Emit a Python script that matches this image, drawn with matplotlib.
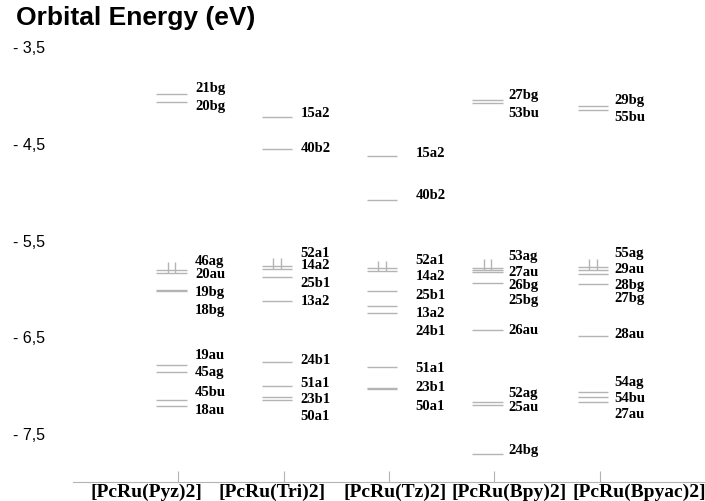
import matplotlib
matplotlib.use("Agg")
import matplotlib.pyplot as plt

# molecular orbital levels (eV) for each complex
compounds = ["[PcRu(Pyz)2]", "[PcRu(Tri)2]", "[PcRu(Tz)2]", "[PcRu(Bpy)2]", "[PcRu(Bpyac)2]"]

pyz_names = ["21bg", "20bg", "46ag", "20au", "19bg", "18bg", "19au", "45ag", "45bu", "18au"]
pyz_energy = [-4.00, -4.08, -5.815, -5.846, -6.022, -6.03, -6.794, -6.873, -7.159, -7.218]

tri_names = ["15a2", "40b2", "52a1", "14a2", "25b1", "13a2", "24b1", "51a1", "23b1", "50a1"]
tri_energy = [-4.237, -4.565, -5.771, -5.805, -5.885, -6.139, -6.763, -7.017, -7.125, -7.156]

tz_names = ["15a2", "40b2", "52a1", "14a2", "25b1", "13a2", "24b1", "51a1", "23b1", "50a1"]
tz_energy = [-4.640, -5.092, -5.795, -5.829, -6.029, -6.190, -6.260, -6.821, -7.038, -7.045]

bpy_names = ["27bg", "53bu", "53ag", "27au", "26bg", "25bg", "26au", "52ag", "25au", "24bg"]
bpy_energy = [-4.055, -4.089, -5.795, -5.815, -5.839, -5.953, -6.432, -7.183, -7.211, -7.717]

bpyac_names = ["29bg", "55bu", "55ag", "29au", "28bg", "27bg", "28au", "54ag", "54bu", "27au"]
bpyac_energy = [-4.120, -4.161, -5.784, -5.815, -5.856, -5.959, -6.497, -7.076, -7.128, -7.180]

yticks = [-3.5, -4.5, -5.5, -6.5, -7.5]

# where each name sits (eV), spread out so names don't collide
pyz_label_y = [-3.924, -4.110, -5.712, -5.846, -6.032, -6.218, -6.683, -6.866, -7.073, -7.259]
tri_label_y = [-4.192, -4.544, -5.629, -5.753, -5.939, -6.125, -6.735, -6.973, -7.138, -7.314]
tz_label_y = [-4.596, -5.037, -5.709, -5.874, -6.063, -6.252, -6.435, -6.821, -7.017, -7.211]
bpy_label_y = [-4.003, -4.185, -5.667, -5.833, -5.960, -6.115, -6.425, -7.079, -7.224, -7.665]
bpyac_label_y = [-4.048, -4.224, -5.629, -5.795, -5.960, -6.094, -6.466, -6.963, -7.128, -7.293]

levels = [
    (pyz_names, pyz_energy, pyz_label_y),
    (tri_names, tri_energy, tri_label_y),
    (tz_names, tz_energy, tz_label_y),
    (bpy_names, bpy_energy, bpy_label_y),
    (bpyac_names, bpyac_energy, bpyac_label_y),
]

label_dx = [0.16, 0.16, 0.25, 0.13, 0.14]
name_x = [0.70, 1.89, 3.06, 4.145, 5.38]

line_col = "#b4b4b4"
serif = ["Liberation Serif", "DejaVu Serif"]
sans = ["Liberation Sans", "DejaVu Sans"]

fig = plt.figure(figsize=(7.05, 5.02), dpi=100)
ax = fig.add_axes([73 / 705, 1 - 482.5 / 502, 1 - 73 / 705, (482.5 - 47) / 502])

for i, (names, energy, label_y) in enumerate(levels):
    x = i + 1
    ax.hlines(energy, x - 0.21, x + 0.08, color=line_col, lw=1.0)
    # two electrons drawn on the highest occupied pair
    homo = energy[3]
    for dx in (-0.10, -0.03):
        ax.vlines(x + dx, homo, homo + 0.11, color=line_col, lw=1.0)
    for name, ly in zip(names, label_y):
        ax.text(x + label_dx[i], ly, name, ha="left", va="center",
                fontsize=10.5, fontweight="bold", family=serif)

for xc, name in zip(name_x, compounds):
    ax.text(xc, -8.10, name, ha="center", va="center", fontsize=14,
            family=serif, fontweight="bold")

ax.set_xlim(0, 6.0)
ax.set_ylim(-8.0, -3.5)
ax.set_xticks([1, 2, 3, 4, 5])
ax.set_xticklabels([])
ax.tick_params(axis="x", direction="in", length=8, color=line_col)
ax.set_yticks(yticks)
ax.set_yticklabels(["- " + f"{abs(v):.1f}".replace(".", ",") for v in yticks],
                   family=sans, fontsize=11.5)
ax.tick_params(axis="y", length=0, pad=20)
for side in ("left", "right", "top"):
    ax.spines[side].set_visible(False)
ax.spines["bottom"].set_color(line_col)

fig.text(16 / 705, 1 - 18 / 502, "Orbital Energy (eV)", ha="left", va="center",
         fontsize=19, fontweight="bold", family=sans)

fig.savefig("out.png", dpi=100)
